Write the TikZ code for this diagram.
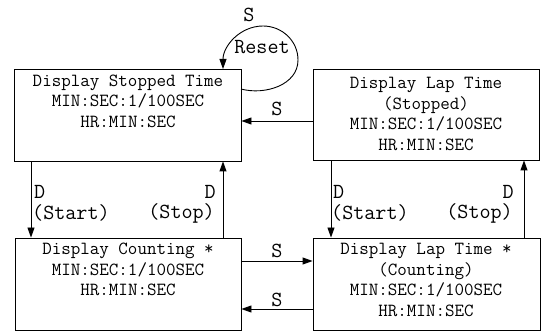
\documentclass[tikz,border=0pt]{standalone}
\usepackage{fontspec}
\usetikzlibrary{arrows.meta}
\begin{document}
\begin{tikzpicture}[x=1pt,y=-1pt,
  box/.style={draw=black,line width=0.9pt,minimum width=#1,minimum height=92pt,inner sep=0pt},
  boxtext/.style={anchor=north,align=center,inner sep=0pt,font=\ttfamily\fontsize{18.5}{20.5}\selectfont},
  lab/.style={inner sep=0pt,font=\ttfamily\fontsize{21.5}{22}\selectfont},
  arr/.style={line width=0.9pt,-{Triangle[length=10pt,width=7pt]}},
  ln/.style={line width=0.9pt}]
\useasboundingbox (0,0) rectangle (544,331);
% boxes
\node[box=227pt] (b1) at (127.5,115) {};
\node[box=226pt,minimum height=91pt] (b2) at (426,114.5) {};
\node[box=226pt] (b3) at (128,284) {};
\node[box=227pt] (b4) at (426.5,284) {};
% texts
\node[boxtext] (t1) at (128,74.5) {Display Stopped Time\\MIN:SEC:1/100SEC\\HR:MIN:SEC};
\node[boxtext] (t2) at (426,77) {Display Lap Time\\(Stopped)\\MIN:SEC:1/100SEC\\HR:MIN:SEC};
\node[boxtext] (t3) at (128,243) {Display Counting *\\MIN:SEC:1/100SEC\\HR:MIN:SEC};
\node[boxtext] (t4) at (426,243) {Display Lap Time *\\(Counting)\\MIN:SEC:1/100SEC\\HR:MIN:SEC};
% self loop
\coordinate (ls) at (241,89);
\coordinate (lr) at (298,60);
\coordinate (lt) at (263,26);
\coordinate (le) at (223,69);
\draw[arr] (ls) to[out=-15,in=-90] (lr) to[out=90,in=0] (lt) to[out=180,in=90] (le);
\node[lab] (sl) at (249,15) {S};
\node[lab] (rs) at (262,47) {Reset};
% S from b2 to b1
\coordinate (r1) at (0,121);
\draw[arr] (b2.west |- r1) -- (b1.east |- r1);
\node[lab] (s1) at (277,109) {S};
% S b3 -> b4
\coordinate (r2) at (0,261);
\draw[arr] (b3.east |- r2) -- (b4.west |- r2);
\node[lab] (s2) at (277,251) {S};
% S b4 -> b3
\coordinate (r3) at (0,309);
\draw[arr] (b4.west |- r3) -- (b3.east |- r3);
\node[lab] (s3) at (277,300) {S};
% verticals
\coordinate (cA) at (31,0);
\coordinate (cB) at (223,0);
\coordinate (cC) at (331,0);
\coordinate (cD) at (524,0);
\draw[arr] (b1.south -| cA) -- (b3.north -| cA);
\draw[arr] (b3.north -| cB) -- (b1.south -| cB);
\draw[arr] (b2.south -| cC) -- (b4.north -| cC);
\draw[arr] (b4.north -| cD) -- (b2.south -| cD);
% D labels
\node[lab,anchor=west] (d1) at (34,192) {D};
\node[lab,anchor=west] (st1) at (32,213) {(Start)};
\node[lab,anchor=east] (d2) at (216,192) {D};
\node[lab,anchor=east] (sp1) at (215,213) {(Stop)};
\node[lab,anchor=west] (d3) at (333,192) {D};
\node[lab,anchor=west] (st2) at (331,213) {(Start)};
\node[lab,anchor=east] (d4) at (514,192) {D};
\node[lab,anchor=east] (sp2) at (513,213) {(Stop)};
\end{tikzpicture}
\end{document}
